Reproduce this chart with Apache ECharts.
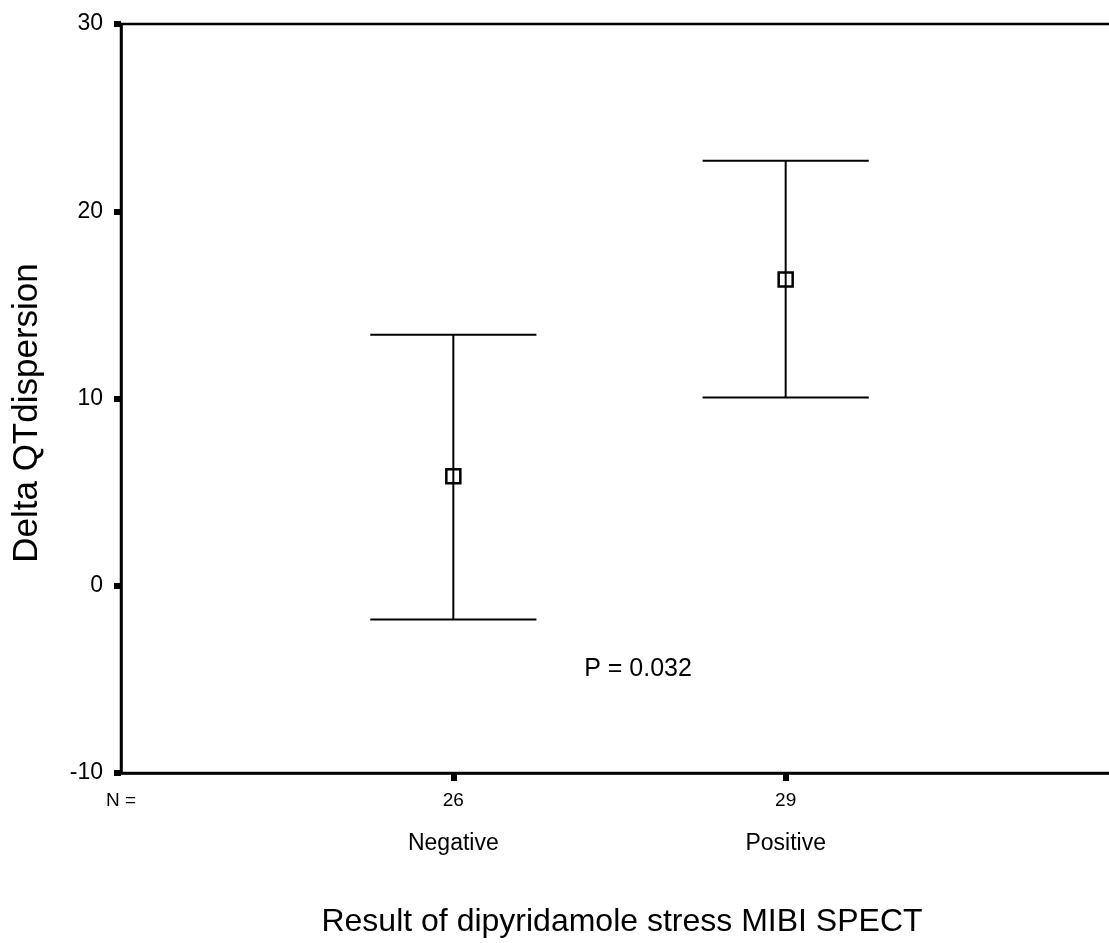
<!DOCTYPE html>
<html>
<head>
<meta charset="utf-8">
<script src="https://cdn.jsdelivr.net/npm/echarts@6/dist/echarts.min.js"></script>
<style>
  html, body { margin: 0; padding: 0; background: #fff; }
  #chart { width: 1109px; height: 943px; }
</style>
</head>
<body>
<div id="chart"></div>
<script>
// Group labels and sample sizes
const categories = ['Negative', 'Positive'];
const groupN = [26, 29];
// Mean change in QT dispersion with its 95% confidence interval
const means = [5.85, 16.35];
const lowerCI = [-1.8, 10.05];
const upperCI = [13.4, 22.7];
// Value-axis ticks
const yTicks = [-10, 0, 10, 20, 30];
const pText = 'P = 0.032';

const FONT = '"Liberation Sans", Arial, sans-serif';

const rows = categories.map((c, i) => [i + 1, means[i], lowerCI[i], upperCI[i]]);

const chart = echarts.init(document.getElementById('chart'), null, { renderer: 'canvas' });

// Whisker from lower to upper limit, end caps, and an open square at the mean
function errorBar(params, api) {
  const x = api.value(0);
  const pHi = api.coord([x, api.value(3)]);
  const pLo = api.coord([x, api.value(2)]);
  const pM = api.coord([x, api.value(1)]);
  const halfCap = api.size([0.25, 0])[0];
  const s = 7;
  const stroke = { stroke: '#000', lineWidth: 2 };
  return {
    type: 'group',
    children: [
      { type: 'line', shape: { x1: pHi[0], y1: pHi[1], x2: pLo[0], y2: pLo[1] }, style: stroke },
      { type: 'line', shape: { x1: pHi[0] - halfCap, y1: pHi[1], x2: pHi[0] + halfCap, y2: pHi[1] }, style: stroke },
      { type: 'line', shape: { x1: pLo[0] - halfCap, y1: pLo[1], x2: pLo[0] + halfCap, y2: pLo[1] }, style: stroke },
      { type: 'rect', shape: { x: pM[0] - s, y: pM[1] - s, width: 2 * s, height: 2 * s },
        style: { fill: 'none', stroke: '#000', lineWidth: 2.5 } }
    ]
  };
}

const xLabelsTop = ['N ='].concat(groupN.map(String));

chart.setOption({
  animation: false,
  backgroundColor: '#fff',
  grid: {
    left: 121, top: 24, width: 997, height: 749,
    outerBoundsMode: 'none', containLabel: false,
    show: true, borderColor: '#000', borderWidth: 2.5, backgroundColor: 'transparent'
  },
  xAxis: [
    {
      type: 'value', min: 0, max: 3, position: 'bottom',
      axisLine: { show: true, onZero: false, lineStyle: { color: '#000', width: 2.5 } },
      axisTick: { show: true, customValues: [1, 2], length: 8, lineStyle: { color: '#000', width: 6 } },
      axisLabel: {
        customValues: [0, 1, 2], margin: 18,
        formatter: (v) => xLabelsTop[Math.round(v)],
        fontFamily: FONT, fontSize: 19, color: '#000'
      },
      splitLine: { show: false }
    },
    {
      type: 'value', min: 0, max: 3, position: 'bottom', offset: 0,
      axisLine: { show: false, onZero: false }, axisTick: { show: false },
      axisLabel: {
        customValues: [1, 2], margin: 59,
        formatter: (v) => categories[Math.round(v) - 1],
        fontFamily: FONT, fontSize: 23, color: '#000'
      },
      splitLine: { show: false }
    }
  ],
  yAxis: {
    type: 'value', min: yTicks[0], max: yTicks[yTicks.length - 1], interval: 10,
    axisLine: { show: true, onZero: false, lineStyle: { color: '#000', width: 2.5 } },
    axisTick: { show: true, length: 7, lineStyle: { color: '#000', width: 6 } },
    axisLabel: { margin: 18, fontFamily: FONT, fontSize: 23, color: '#000' },
    splitLine: { show: false }
  },
  series: [{
    type: 'custom',
    xAxisIndex: 0,
    renderItem: errorBar,
    data: rows,
    clip: false
  }],
  graphic: [
    {
      type: 'text', x: 27, y: 413, rotation: Math.PI / 2,
      style: { text: 'Delta QTdispersion', fontFamily: FONT, fontSize: 35, fill: '#000',
               align: 'center', verticalAlign: 'middle' }
    },
    {
      type: 'text', x: 622, y: 922,
      style: { text: 'Result of dipyridamole stress MIBI SPECT', fontFamily: FONT, fontSize: 32, fill: '#000',
               align: 'center', verticalAlign: 'middle' }
    },
    {
      type: 'text', x: 638, y: 669,
      style: { text: pText, fontFamily: FONT, fontSize: 25, fill: '#000',
               align: 'center', verticalAlign: 'middle' }
    }
  ]
});
</script>
</body>
</html>
